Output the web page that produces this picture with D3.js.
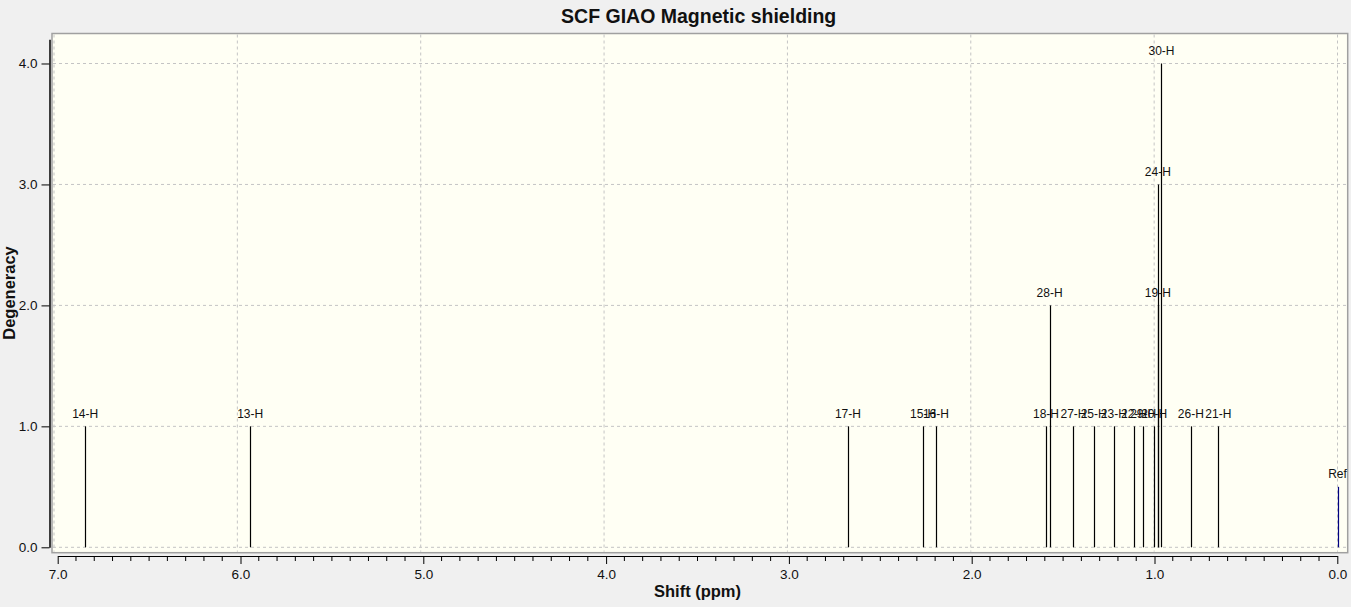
<!DOCTYPE html>
<html>
<head>
<meta charset="utf-8">
<script src="https://cdn.jsdelivr.net/npm/d3@7"></script>
<style>
  body { margin: 0; background: #f0f0f0; }
  svg { display: block; }
  .etiqueta { font-family: "Liberation Sans Narrow", "Liberation Sans", Arial, sans-serif; font-size: 12px; fill: #111; }
  .eix text { font-family: "Liberation Sans Narrow", "Liberation Sans", Arial, sans-serif; font-size: 13.5px; fill: #111; }
  .titol { font-family: "Liberation Sans", Arial, sans-serif; font-weight: bold; fill: #111; }
</style>
</head>
<body>
<div id="chart"></div>
<script>
// Dades del espectre (desplaçament en ppm, degeneració)
const labels     = ["14-H", "13-H", "17-H", "15-H", "16-H", "18-H", "28-H", "27-H", "25-H", "23-H", "22-H", "29-H", "20-H", "19-H", "24-H", "30-H", "26-H", "21-H", "Ref"];
const shifts     = [6.83, 5.93, 2.67, 2.26, 2.19, 1.59, 1.57, 1.44, 1.33, 1.22, 1.11, 1.06, 1.00, 0.98, 0.98, 0.96, 0.80, 0.65, 0.00];
const degeneracy = [1, 1, 1, 1, 1, 1, 2, 1, 1, 1, 1, 1, 1, 2, 3, 4, 1, 1, 0.5];

const xTicks = [7, 6, 5, 4, 3, 2, 1, 0];
const yTicks = [0, 1, 2, 3, 4];

const peaks = labels.map((l, i) => ({ label: l, shift: shifts[i], deg: degeneracy[i] }));

const W = 1351, H = 607;
const frame = { left: 52, top: 33.5, right: 1347.7, bottom: 552.7 };

const svg = d3.select("#chart").append("svg")
    .attr("width", W)
    .attr("height", H);

svg.append("rect")
    .attr("width", W).attr("height", H)
    .attr("fill", "#f0f0f0");

// Escales: la del gràfic i la de l'eix (lleugerament desplaçades, com a l'original)
const x = d3.scaleLinear().domain([7, 0]).range([54, 1337.5]);
const xEix = d3.scaleLinear().domain([7, 0]).range([57.7, 1337.3]);
const y = d3.scaleLinear().domain([0, 4.2]).range([547.3, 39.3]);

// Fons del gràfic
svg.append("rect")
    .attr("x", frame.left)
    .attr("y", frame.top)
    .attr("width", frame.right - frame.left)
    .attr("height", frame.bottom - frame.top)
    .attr("fill", "#fffff4")
    .attr("stroke", "#a0a0a0")
    .attr("stroke-width", 1.5);

// Graella
svg.append("g").selectAll("line")
    .data(xTicks)
    .join("line")
        .attr("x1", d => x(d)).attr("x2", d => x(d))
        .attr("y1", frame.top + 1).attr("y2", frame.bottom - 1)
        .attr("stroke", "#c4c4c4")
        .attr("stroke-dasharray", "3,3");

svg.append("g").selectAll("line")
    .data(yTicks)
    .join("line")
        .attr("x1", frame.left + 1).attr("x2", frame.right - 1)
        .attr("y1", d => y(d)).attr("y2", d => y(d))
        .attr("stroke", "#c4c4c4")
        .attr("stroke-dasharray", "3,3");

// Línies dels pics
svg.append("g").selectAll("line")
    .data(peaks)
    .join("line")
        .attr("x1", d => Math.round(x(d.shift)) + 0.5)
        .attr("x2", d => Math.round(x(d.shift)) + 0.5)
        .attr("y1", y(0))
        .attr("y2", d => y(d.deg))
        .attr("stroke", d => d.label === "Ref" ? "#000080" : "#000")
        .attr("stroke-width", 1.2);

// Etiquetes dels pics
svg.append("g").selectAll("text")
    .data(peaks)
    .join("text")
        .attr("class", "etiqueta")
        .attr("x", d => x(d.shift))
        .attr("y", d => y(d.deg) - 8.5)
        .attr("text-anchor", "middle")
        .text(d => d.label);

// Eix Y
const eixY = svg.append("g")
    .attr("class", "eix")
    .attr("transform", "translate(49.5,0)")
    .call(d3.axisLeft(y).tickValues(yTicks).tickFormat(d3.format(".1f")).tickSize(8).tickSizeOuter(0).tickPadding(4));
eixY.select(".domain").attr("stroke", "#000").attr("stroke-width", 1.5);
eixY.selectAll(".tick line").attr("stroke", "#000");

// Eix X
const eixX = svg.append("g")
    .attr("class", "eix")
    .attr("transform", "translate(0,556)")
    .call(d3.axisBottom(xEix).tickValues(xTicks).tickFormat(d3.format(".1f")).tickSize(8).tickSizeOuter(0).tickPadding(5));
eixX.select(".domain").attr("stroke", "#000").attr("stroke-width", 1.2);
eixX.selectAll(".tick line").attr("stroke", "#000");

// Marques menors cada 0.1 ppm
const menors = d3.range(1, 70).filter(i => i % 10 !== 0).map(i => i / 10);
svg.append("g").selectAll("line")
    .data(menors)
    .join("line")
        .attr("x1", d => xEix(d)).attr("x2", d => xEix(d))
        .attr("y1", 556).attr("y2", 561)
        .attr("stroke", "#000");

// Títols
svg.append("text")
    .attr("class", "titol")
    .attr("x", 698.7)
    .attr("y", 23)
    .attr("text-anchor", "middle")
    .style("font-size", "19.5px")
    .text("SCF GIAO Magnetic shielding");

svg.append("text")
    .attr("class", "titol")
    .attr("x", 697.5)
    .attr("y", 597)
    .attr("text-anchor", "middle")
    .style("font-size", "16.5px")
    .text("Shift (ppm)");

svg.append("text")
    .attr("class", "titol")
    .attr("transform", "translate(14.5,293) rotate(-90)")
    .attr("text-anchor", "middle")
    .style("font-size", "16.5px")
    .text("Degeneracy");
</script>
</body>
</html>
